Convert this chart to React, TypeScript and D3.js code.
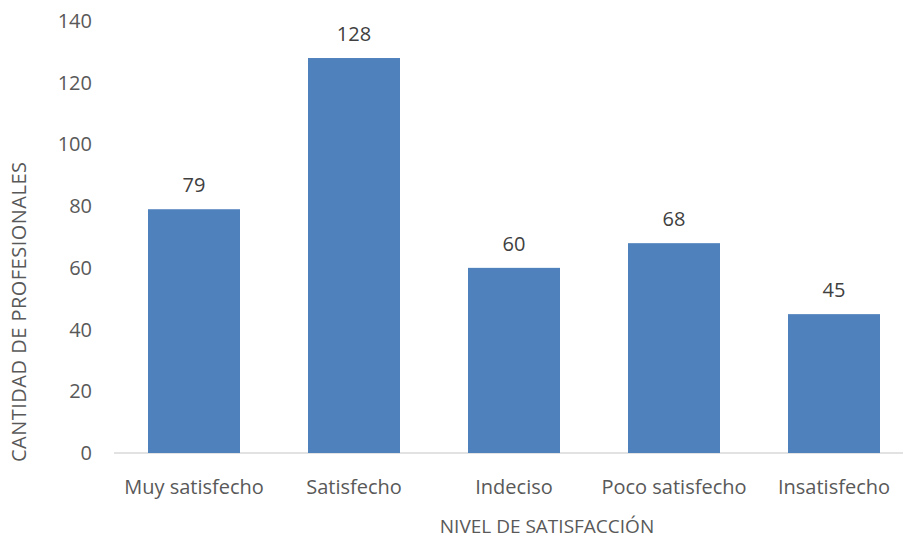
import React from "react";
import * as d3 from "d3";

const categories = ["Muy satisfecho", "Satisfecho", "Indeciso", "Poco satisfecho", "Insatisfecho"];
const values = [79, 128, 60, 68, 45];
const yTicks = [0, 20, 40, 60, 80, 100, 120, 140];

const W = 903;
const H = 541;
const FONT = "'Open Sans', 'Noto Sans', sans-serif";
const TXT = "#595959";

export default function App() {
  const x = d3.scaleBand<string>().domain(categories).range([114, 914]).paddingInner(0.425).paddingOuter(0.2125);
  const y = d3.scaleLinear().domain([0, 140]).range([453, 21]);
  return (
    <svg width={W} height={H} style={{ position: "absolute", left: 0, top: 0, background: "#fff" }} fontFamily={FONT}>
      {yTicks.map((t) => (
        <text key={t} x={92} y={y(t)} dy="0.35em" textAnchor="end" fontSize={20} fill={TXT}>
          {t}
        </text>
      ))}
      <line x1={114} x2={W} y1={y(0)} y2={y(0)} stroke="#d9d9d9" strokeWidth={1.5} />
      {categories.map((c, i) => (
        <g key={c}>
          <rect x={x(c)} y={y(values[i])} width={x.bandwidth()} height={y(0) - y(values[i])} fill="#4f81bd" />
          <text x={(x(c) as number) + x.bandwidth() / 2} y={y(values[i]) - 24} dy="0.35em" textAnchor="middle" fontSize={20} fill="#404040">
            {values[i]}
          </text>
          <text x={(x(c) as number) + x.bandwidth() / 2} y={487} dy="0.35em" textAnchor="middle" fontSize={20} fill={TXT}>
            {c}
          </text>
        </g>
      ))}
      <text x={547} y={526} dy="0.35em" textAnchor="middle" fontSize={19} fill={TXT}>
        NIVEL DE SATISFACCIÓN
      </text>
      <text transform={`translate(19,312) rotate(-90)`} dy="0.35em" textAnchor="middle" fontSize={20} fill={TXT} textLength={300} lengthAdjust="spacing">
        CANTIDAD DE PROFESIONALES
      </text>
    </svg>
  );
}
